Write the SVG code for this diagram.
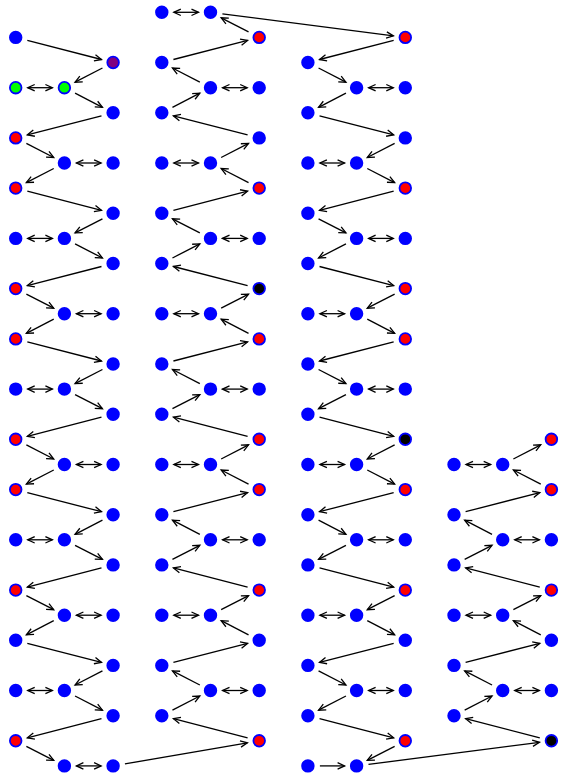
<svg xmlns="http://www.w3.org/2000/svg" width="567" height="779" viewBox="0 0 567 779">
<defs>
<style>
.b{fill:#0000ff;stroke:#0000ff;stroke-width:1.8}
.r{fill:#ff0000;stroke:#0000ff;stroke-width:1.8}
.k{fill:#000000;stroke:#0000ff;stroke-width:1.8}
.g{fill:#00ff00;stroke:#0000ff;stroke-width:1.8}
.p{fill:#800080;stroke:#0000ff;stroke-width:1.8}
#edges line{stroke:#000;stroke-width:1.3;fill:none;marker-end:url(#ah)}
#edges line.d{marker-start:url(#ah)}
</style>
<marker id="ah" markerUnits="userSpaceOnUse" viewBox="-9 -5 11 10" refX="0" refY="0" markerWidth="11" markerHeight="10" orient="auto-start-reverse">
<path d="M-7,-3.2 L0,0 L-7,3.2" fill="none" stroke="#000" stroke-width="1.3"/>
</marker>
</defs>
<rect width="567" height="779" fill="#fff"/>
<g id="edges">
<line x1="27.32" y1="40.4" x2="101.48" y2="59.5"/>
<line x1="102.44" y1="68.0" x2="75.06" y2="82.2"/>
<line class="d" x1="27.7" y1="87.7" x2="52.4" y2="87.7"/>
<line x1="75.06" y1="93.2" x2="102.44" y2="107.3"/>
<line x1="101.48" y1="115.8" x2="27.32" y2="134.9"/>
<line x1="26.36" y1="143.4" x2="53.74" y2="157.5"/>
<line class="d" x1="76.4" y1="163.0" x2="101.1" y2="163.0"/>
<line x1="53.74" y1="168.5" x2="26.36" y2="182.6"/>
<line x1="27.32" y1="191.1" x2="101.48" y2="210.3"/>
<line x1="102.44" y1="218.8" x2="75.06" y2="232.9"/>
<line class="d" x1="27.7" y1="238.4" x2="52.4" y2="238.4"/>
<line x1="75.06" y1="243.9" x2="102.44" y2="258.0"/>
<line x1="101.48" y1="266.5" x2="27.32" y2="285.6"/>
<line x1="26.36" y1="294.1" x2="53.74" y2="308.2"/>
<line class="d" x1="76.4" y1="313.7" x2="101.1" y2="313.7"/>
<line x1="53.74" y1="319.2" x2="26.36" y2="333.4"/>
<line x1="27.32" y1="341.9" x2="101.48" y2="361.0"/>
<line x1="102.44" y1="369.5" x2="75.06" y2="383.6"/>
<line class="d" x1="27.7" y1="389.1" x2="52.4" y2="389.1"/>
<line x1="75.06" y1="394.6" x2="102.44" y2="408.7"/>
<line x1="101.48" y1="417.2" x2="27.32" y2="436.3"/>
<line x1="26.36" y1="444.8" x2="53.74" y2="459.0"/>
<line class="d" x1="76.4" y1="464.5" x2="101.1" y2="464.5"/>
<line x1="53.74" y1="470.0" x2="26.36" y2="484.1"/>
<line x1="27.32" y1="492.6" x2="101.48" y2="511.7"/>
<line x1="102.44" y1="520.2" x2="75.06" y2="534.3"/>
<line class="d" x1="27.7" y1="539.8" x2="52.4" y2="539.8"/>
<line x1="75.06" y1="545.3" x2="102.44" y2="559.4"/>
<line x1="101.48" y1="567.9" x2="27.32" y2="587.1"/>
<line x1="26.36" y1="595.6" x2="53.74" y2="609.7"/>
<line class="d" x1="76.4" y1="615.2" x2="101.1" y2="615.2"/>
<line x1="53.74" y1="620.7" x2="26.36" y2="634.8"/>
<line x1="27.32" y1="643.3" x2="101.48" y2="662.4"/>
<line x1="102.44" y1="670.9" x2="75.06" y2="685.0"/>
<line class="d" x1="27.7" y1="690.5" x2="52.4" y2="690.5"/>
<line x1="75.06" y1="696.0" x2="102.44" y2="710.2"/>
<line x1="101.48" y1="718.7" x2="27.32" y2="737.8"/>
<line x1="26.36" y1="746.3" x2="53.74" y2="760.4"/>
<line class="d" x1="76.4" y1="765.9" x2="101.1" y2="765.9"/>
<line x1="124.9" y1="763.9" x2="247.4" y2="742.8"/>
<line class="d" x1="173.8" y1="12.3" x2="198.5" y2="12.3"/>
<line x1="248.54" y1="31.9" x2="221.16" y2="17.8"/>
<line x1="222.4" y1="13.8" x2="393.4" y2="35.9"/>
<line x1="173.42" y1="59.5" x2="247.58" y2="40.4"/>
<line x1="199.84" y1="82.2" x2="172.46" y2="68.0"/>
<line class="d" x1="222.5" y1="87.7" x2="247.2" y2="87.7"/>
<line x1="172.46" y1="107.3" x2="199.84" y2="93.2"/>
<line x1="247.58" y1="134.9" x2="173.42" y2="115.8"/>
<line x1="221.16" y1="157.5" x2="248.54" y2="143.4"/>
<line class="d" x1="173.8" y1="163.0" x2="198.5" y2="163.0"/>
<line x1="248.54" y1="182.6" x2="221.16" y2="168.5"/>
<line x1="173.42" y1="210.3" x2="247.58" y2="191.1"/>
<line x1="199.84" y1="232.9" x2="172.46" y2="218.8"/>
<line class="d" x1="222.5" y1="238.4" x2="247.2" y2="238.4"/>
<line x1="172.46" y1="258.0" x2="199.84" y2="243.9"/>
<line x1="247.58" y1="285.6" x2="173.42" y2="266.5"/>
<line x1="221.16" y1="308.2" x2="248.54" y2="294.1"/>
<line class="d" x1="173.8" y1="313.7" x2="198.5" y2="313.7"/>
<line x1="248.54" y1="333.4" x2="221.16" y2="319.2"/>
<line x1="173.42" y1="361.0" x2="247.58" y2="341.9"/>
<line x1="199.84" y1="383.6" x2="172.46" y2="369.5"/>
<line class="d" x1="222.5" y1="389.1" x2="247.2" y2="389.1"/>
<line x1="172.46" y1="408.7" x2="199.84" y2="394.6"/>
<line x1="247.58" y1="436.3" x2="173.42" y2="417.2"/>
<line x1="221.16" y1="459.0" x2="248.54" y2="444.8"/>
<line class="d" x1="173.8" y1="464.5" x2="198.5" y2="464.5"/>
<line x1="248.54" y1="484.1" x2="221.16" y2="470.0"/>
<line x1="173.42" y1="511.7" x2="247.58" y2="492.6"/>
<line x1="199.84" y1="534.3" x2="172.46" y2="520.2"/>
<line class="d" x1="222.5" y1="539.8" x2="247.2" y2="539.8"/>
<line x1="172.46" y1="559.4" x2="199.84" y2="545.3"/>
<line x1="247.58" y1="587.1" x2="173.42" y2="567.9"/>
<line x1="221.16" y1="609.7" x2="248.54" y2="595.6"/>
<line class="d" x1="173.8" y1="615.2" x2="198.5" y2="615.2"/>
<line x1="248.54" y1="634.8" x2="221.16" y2="620.7"/>
<line x1="173.42" y1="662.4" x2="247.58" y2="643.3"/>
<line x1="199.84" y1="685.0" x2="172.46" y2="670.9"/>
<line class="d" x1="222.5" y1="690.5" x2="247.2" y2="690.5"/>
<line x1="172.46" y1="710.2" x2="199.84" y2="696.0"/>
<line x1="247.58" y1="737.8" x2="173.42" y2="718.7"/>
<line x1="393.68" y1="40.4" x2="319.52" y2="59.5"/>
<line x1="318.56" y1="68.0" x2="345.94" y2="82.2"/>
<line class="d" x1="368.6" y1="87.7" x2="393.3" y2="87.7"/>
<line x1="345.94" y1="93.2" x2="318.56" y2="107.3"/>
<line x1="319.52" y1="115.8" x2="393.68" y2="134.9"/>
<line x1="394.64" y1="143.4" x2="367.26" y2="157.5"/>
<line class="d" x1="319.9" y1="163.0" x2="344.6" y2="163.0"/>
<line x1="367.26" y1="168.5" x2="394.64" y2="182.6"/>
<line x1="393.68" y1="191.1" x2="319.52" y2="210.3"/>
<line x1="318.56" y1="218.8" x2="345.94" y2="232.9"/>
<line class="d" x1="368.6" y1="238.4" x2="393.3" y2="238.4"/>
<line x1="345.94" y1="243.9" x2="318.56" y2="258.0"/>
<line x1="319.52" y1="266.5" x2="393.68" y2="285.6"/>
<line x1="394.64" y1="294.1" x2="367.26" y2="308.2"/>
<line class="d" x1="319.9" y1="313.7" x2="344.6" y2="313.7"/>
<line x1="367.26" y1="319.2" x2="394.64" y2="333.4"/>
<line x1="393.68" y1="341.9" x2="319.52" y2="361.0"/>
<line x1="318.56" y1="369.5" x2="345.94" y2="383.6"/>
<line class="d" x1="368.6" y1="389.1" x2="393.3" y2="389.1"/>
<line x1="345.94" y1="394.6" x2="318.56" y2="408.7"/>
<line x1="319.52" y1="417.2" x2="393.68" y2="436.3"/>
<line x1="394.64" y1="444.8" x2="367.26" y2="459.0"/>
<line class="d" x1="319.9" y1="464.5" x2="344.6" y2="464.5"/>
<line x1="367.26" y1="470.0" x2="394.64" y2="484.1"/>
<line x1="393.68" y1="492.6" x2="319.52" y2="511.7"/>
<line x1="318.56" y1="520.2" x2="345.94" y2="534.3"/>
<line class="d" x1="368.6" y1="539.8" x2="393.3" y2="539.8"/>
<line x1="345.94" y1="545.3" x2="318.56" y2="559.4"/>
<line x1="319.52" y1="567.9" x2="393.68" y2="587.1"/>
<line x1="394.64" y1="595.6" x2="367.26" y2="609.7"/>
<line class="d" x1="319.9" y1="615.2" x2="344.6" y2="615.2"/>
<line x1="367.26" y1="620.7" x2="394.64" y2="634.8"/>
<line x1="393.68" y1="643.3" x2="319.52" y2="662.4"/>
<line x1="318.56" y1="670.9" x2="345.94" y2="685.0"/>
<line class="d" x1="368.6" y1="690.5" x2="393.3" y2="690.5"/>
<line x1="345.94" y1="696.0" x2="318.56" y2="710.2"/>
<line x1="319.52" y1="718.7" x2="393.68" y2="737.8"/>
<line x1="394.64" y1="746.3" x2="367.26" y2="760.4"/>
<line x1="319.9" y1="765.9" x2="344.6" y2="765.9"/>
<line x1="368.5" y1="764.4" x2="539.5" y2="742.3"/>
<line x1="513.36" y1="459.0" x2="540.74" y2="444.8"/>
<line class="d" x1="466.0" y1="464.5" x2="490.7" y2="464.5"/>
<line x1="540.74" y1="484.1" x2="513.36" y2="470.0"/>
<line x1="465.62" y1="511.7" x2="539.78" y2="492.6"/>
<line x1="492.04" y1="534.3" x2="464.66" y2="520.2"/>
<line class="d" x1="514.7" y1="539.8" x2="539.4" y2="539.8"/>
<line x1="464.66" y1="559.4" x2="492.04" y2="545.3"/>
<line x1="539.78" y1="587.1" x2="465.62" y2="567.9"/>
<line x1="513.36" y1="609.7" x2="540.74" y2="595.6"/>
<line class="d" x1="466.0" y1="615.2" x2="490.7" y2="615.2"/>
<line x1="540.74" y1="634.8" x2="513.36" y2="620.7"/>
<line x1="465.62" y1="662.4" x2="539.78" y2="643.3"/>
<line x1="492.04" y1="685.0" x2="464.66" y2="670.9"/>
<line class="d" x1="514.7" y1="690.5" x2="539.4" y2="690.5"/>
<line x1="464.66" y1="710.2" x2="492.04" y2="696.0"/>
<line x1="539.78" y1="737.8" x2="465.62" y2="718.7"/>
</g>
<g id="nodesA">
<g id="a0r1"><circle class="b" cx="15.7" cy="37.4" r="5.8"/></g>
<g id="a2r2"><circle class="p" cx="113.1" cy="62.5" r="5.8"/></g>
<g id="a0r3"><circle class="g" cx="15.7" cy="87.7" r="5.8"/></g>
<g id="a1r3"><circle class="g" cx="64.4" cy="87.7" r="5.8"/></g>
<g id="a2r4"><circle class="b" cx="113.1" cy="112.8" r="5.8"/></g>
<g id="a0r5"><circle class="r" cx="15.7" cy="137.9" r="5.8"/></g>
<g id="a1r6"><circle class="b" cx="64.4" cy="163.0" r="5.8"/></g>
<g id="a2r6"><circle class="b" cx="113.1" cy="163.0" r="5.8"/></g>
<g id="a0r7"><circle class="r" cx="15.7" cy="188.1" r="5.8"/></g>
<g id="a2r8"><circle class="b" cx="113.1" cy="213.3" r="5.8"/></g>
<g id="a0r9"><circle class="b" cx="15.7" cy="238.4" r="5.8"/></g>
<g id="a1r9"><circle class="b" cx="64.4" cy="238.4" r="5.8"/></g>
<g id="a2r10"><circle class="b" cx="113.1" cy="263.5" r="5.8"/></g>
<g id="a0r11"><circle class="r" cx="15.7" cy="288.6" r="5.8"/></g>
<g id="a1r12"><circle class="b" cx="64.4" cy="313.7" r="5.8"/></g>
<g id="a2r12"><circle class="b" cx="113.1" cy="313.7" r="5.8"/></g>
<g id="a0r13"><circle class="r" cx="15.7" cy="338.9" r="5.8"/></g>
<g id="a2r14"><circle class="b" cx="113.1" cy="364.0" r="5.8"/></g>
<g id="a0r15"><circle class="b" cx="15.7" cy="389.1" r="5.8"/></g>
<g id="a1r15"><circle class="b" cx="64.4" cy="389.1" r="5.8"/></g>
<g id="a2r16"><circle class="b" cx="113.1" cy="414.2" r="5.8"/></g>
<g id="a0r17"><circle class="r" cx="15.7" cy="439.3" r="5.8"/></g>
<g id="a1r18"><circle class="b" cx="64.4" cy="464.5" r="5.8"/></g>
<g id="a2r18"><circle class="b" cx="113.1" cy="464.5" r="5.8"/></g>
<g id="a0r19"><circle class="r" cx="15.7" cy="489.6" r="5.8"/></g>
<g id="a2r20"><circle class="b" cx="113.1" cy="514.7" r="5.8"/></g>
<g id="a0r21"><circle class="b" cx="15.7" cy="539.8" r="5.8"/></g>
<g id="a1r21"><circle class="b" cx="64.4" cy="539.8" r="5.8"/></g>
<g id="a2r22"><circle class="b" cx="113.1" cy="564.9" r="5.8"/></g>
<g id="a0r23"><circle class="r" cx="15.7" cy="590.1" r="5.8"/></g>
<g id="a1r24"><circle class="b" cx="64.4" cy="615.2" r="5.8"/></g>
<g id="a2r24"><circle class="b" cx="113.1" cy="615.2" r="5.8"/></g>
<g id="a0r25"><circle class="b" cx="15.7" cy="640.3" r="5.8"/></g>
<g id="a2r26"><circle class="b" cx="113.1" cy="665.4" r="5.8"/></g>
<g id="a0r27"><circle class="b" cx="15.7" cy="690.5" r="5.8"/></g>
<g id="a1r27"><circle class="b" cx="64.4" cy="690.5" r="5.8"/></g>
<g id="a2r28"><circle class="b" cx="113.1" cy="715.7" r="5.8"/></g>
<g id="a0r29"><circle class="r" cx="15.7" cy="740.8" r="5.8"/></g>
<g id="a1r30"><circle class="b" cx="64.4" cy="765.9" r="5.8"/></g>
<g id="a2r30"><circle class="b" cx="113.1" cy="765.9" r="5.8"/></g>
</g>
<g id="nodesB">
<g id="b3r0"><circle class="b" cx="161.8" cy="12.3" r="5.8"/></g>
<g id="b4r0"><circle class="b" cx="210.5" cy="12.3" r="5.8"/></g>
<g id="b5r1"><circle class="r" cx="259.2" cy="37.4" r="5.8"/></g>
<g id="b3r2"><circle class="b" cx="161.8" cy="62.5" r="5.8"/></g>
<g id="b4r3"><circle class="b" cx="210.5" cy="87.7" r="5.8"/></g>
<g id="b5r3"><circle class="b" cx="259.2" cy="87.7" r="5.8"/></g>
<g id="b3r4"><circle class="b" cx="161.8" cy="112.8" r="5.8"/></g>
<g id="b5r5"><circle class="b" cx="259.2" cy="137.9" r="5.8"/></g>
<g id="b3r6"><circle class="b" cx="161.8" cy="163.0" r="5.8"/></g>
<g id="b4r6"><circle class="b" cx="210.5" cy="163.0" r="5.8"/></g>
<g id="b5r7"><circle class="r" cx="259.2" cy="188.1" r="5.8"/></g>
<g id="b3r8"><circle class="b" cx="161.8" cy="213.3" r="5.8"/></g>
<g id="b4r9"><circle class="b" cx="210.5" cy="238.4" r="5.8"/></g>
<g id="b5r9"><circle class="b" cx="259.2" cy="238.4" r="5.8"/></g>
<g id="b3r10"><circle class="b" cx="161.8" cy="263.5" r="5.8"/></g>
<g id="b5r11"><circle class="k" cx="259.2" cy="288.6" r="5.8"/></g>
<g id="b3r12"><circle class="b" cx="161.8" cy="313.7" r="5.8"/></g>
<g id="b4r12"><circle class="b" cx="210.5" cy="313.7" r="5.8"/></g>
<g id="b5r13"><circle class="r" cx="259.2" cy="338.9" r="5.8"/></g>
<g id="b3r14"><circle class="b" cx="161.8" cy="364.0" r="5.8"/></g>
<g id="b4r15"><circle class="b" cx="210.5" cy="389.1" r="5.8"/></g>
<g id="b5r15"><circle class="b" cx="259.2" cy="389.1" r="5.8"/></g>
<g id="b3r16"><circle class="b" cx="161.8" cy="414.2" r="5.8"/></g>
<g id="b5r17"><circle class="r" cx="259.2" cy="439.3" r="5.8"/></g>
<g id="b3r18"><circle class="b" cx="161.8" cy="464.5" r="5.8"/></g>
<g id="b4r18"><circle class="b" cx="210.5" cy="464.5" r="5.8"/></g>
<g id="b5r19"><circle class="r" cx="259.2" cy="489.6" r="5.8"/></g>
<g id="b3r20"><circle class="b" cx="161.8" cy="514.7" r="5.8"/></g>
<g id="b4r21"><circle class="b" cx="210.5" cy="539.8" r="5.8"/></g>
<g id="b5r21"><circle class="b" cx="259.2" cy="539.8" r="5.8"/></g>
<g id="b3r22"><circle class="b" cx="161.8" cy="564.9" r="5.8"/></g>
<g id="b5r23"><circle class="r" cx="259.2" cy="590.1" r="5.8"/></g>
<g id="b3r24"><circle class="b" cx="161.8" cy="615.2" r="5.8"/></g>
<g id="b4r24"><circle class="b" cx="210.5" cy="615.2" r="5.8"/></g>
<g id="b5r25"><circle class="b" cx="259.2" cy="640.3" r="5.8"/></g>
<g id="b3r26"><circle class="b" cx="161.8" cy="665.4" r="5.8"/></g>
<g id="b4r27"><circle class="b" cx="210.5" cy="690.5" r="5.8"/></g>
<g id="b5r27"><circle class="b" cx="259.2" cy="690.5" r="5.8"/></g>
<g id="b3r28"><circle class="b" cx="161.8" cy="715.7" r="5.8"/></g>
<g id="b5r29"><circle class="r" cx="259.2" cy="740.8" r="5.8"/></g>
</g>
<g id="nodesC">
<g id="c8r1"><circle class="r" cx="405.3" cy="37.4" r="5.8"/></g>
<g id="c6r2"><circle class="b" cx="307.9" cy="62.5" r="5.8"/></g>
<g id="c7r3"><circle class="b" cx="356.6" cy="87.7" r="5.8"/></g>
<g id="c8r3"><circle class="b" cx="405.3" cy="87.7" r="5.8"/></g>
<g id="c6r4"><circle class="b" cx="307.9" cy="112.8" r="5.8"/></g>
<g id="c8r5"><circle class="b" cx="405.3" cy="137.9" r="5.8"/></g>
<g id="c6r6"><circle class="b" cx="307.9" cy="163.0" r="5.8"/></g>
<g id="c7r6"><circle class="b" cx="356.6" cy="163.0" r="5.8"/></g>
<g id="c8r7"><circle class="r" cx="405.3" cy="188.1" r="5.8"/></g>
<g id="c6r8"><circle class="b" cx="307.9" cy="213.3" r="5.8"/></g>
<g id="c7r9"><circle class="b" cx="356.6" cy="238.4" r="5.8"/></g>
<g id="c8r9"><circle class="b" cx="405.3" cy="238.4" r="5.8"/></g>
<g id="c6r10"><circle class="b" cx="307.9" cy="263.5" r="5.8"/></g>
<g id="c8r11"><circle class="r" cx="405.3" cy="288.6" r="5.8"/></g>
<g id="c6r12"><circle class="b" cx="307.9" cy="313.7" r="5.8"/></g>
<g id="c7r12"><circle class="b" cx="356.6" cy="313.7" r="5.8"/></g>
<g id="c8r13"><circle class="r" cx="405.3" cy="338.9" r="5.8"/></g>
<g id="c6r14"><circle class="b" cx="307.9" cy="364.0" r="5.8"/></g>
<g id="c7r15"><circle class="b" cx="356.6" cy="389.1" r="5.8"/></g>
<g id="c8r15"><circle class="b" cx="405.3" cy="389.1" r="5.8"/></g>
<g id="c6r16"><circle class="b" cx="307.9" cy="414.2" r="5.8"/></g>
<g id="c8r17"><circle class="k" cx="405.3" cy="439.3" r="5.8"/></g>
<g id="c6r18"><circle class="b" cx="307.9" cy="464.5" r="5.8"/></g>
<g id="c7r18"><circle class="b" cx="356.6" cy="464.5" r="5.8"/></g>
<g id="c8r19"><circle class="r" cx="405.3" cy="489.6" r="5.8"/></g>
<g id="c6r20"><circle class="b" cx="307.9" cy="514.7" r="5.8"/></g>
<g id="c7r21"><circle class="b" cx="356.6" cy="539.8" r="5.8"/></g>
<g id="c8r21"><circle class="b" cx="405.3" cy="539.8" r="5.8"/></g>
<g id="c6r22"><circle class="b" cx="307.9" cy="564.9" r="5.8"/></g>
<g id="c8r23"><circle class="r" cx="405.3" cy="590.1" r="5.8"/></g>
<g id="c6r24"><circle class="b" cx="307.9" cy="615.2" r="5.8"/></g>
<g id="c7r24"><circle class="b" cx="356.6" cy="615.2" r="5.8"/></g>
<g id="c8r25"><circle class="b" cx="405.3" cy="640.3" r="5.8"/></g>
<g id="c6r26"><circle class="b" cx="307.9" cy="665.4" r="5.8"/></g>
<g id="c7r27"><circle class="b" cx="356.6" cy="690.5" r="5.8"/></g>
<g id="c8r27"><circle class="b" cx="405.3" cy="690.5" r="5.8"/></g>
<g id="c6r28"><circle class="b" cx="307.9" cy="715.7" r="5.8"/></g>
<g id="c8r29"><circle class="r" cx="405.3" cy="740.8" r="5.8"/></g>
<g id="c6r30"><circle class="b" cx="307.9" cy="765.9" r="5.8"/></g>
<g id="c7r30"><circle class="b" cx="356.6" cy="765.9" r="5.8"/></g>
</g>
<g id="nodesD">
<g id="d11r17"><circle class="r" cx="551.4" cy="439.3" r="5.8"/></g>
<g id="d9r18"><circle class="b" cx="454.0" cy="464.5" r="5.8"/></g>
<g id="d10r18"><circle class="b" cx="502.7" cy="464.5" r="5.8"/></g>
<g id="d11r19"><circle class="r" cx="551.4" cy="489.6" r="5.8"/></g>
<g id="d9r20"><circle class="b" cx="454.0" cy="514.7" r="5.8"/></g>
<g id="d10r21"><circle class="b" cx="502.7" cy="539.8" r="5.8"/></g>
<g id="d11r21"><circle class="b" cx="551.4" cy="539.8" r="5.8"/></g>
<g id="d9r22"><circle class="b" cx="454.0" cy="564.9" r="5.8"/></g>
<g id="d11r23"><circle class="r" cx="551.4" cy="590.1" r="5.8"/></g>
<g id="d9r24"><circle class="b" cx="454.0" cy="615.2" r="5.8"/></g>
<g id="d10r24"><circle class="b" cx="502.7" cy="615.2" r="5.8"/></g>
<g id="d11r25"><circle class="b" cx="551.4" cy="640.3" r="5.8"/></g>
<g id="d9r26"><circle class="b" cx="454.0" cy="665.4" r="5.8"/></g>
<g id="d10r27"><circle class="b" cx="502.7" cy="690.5" r="5.8"/></g>
<g id="d11r27"><circle class="b" cx="551.4" cy="690.5" r="5.8"/></g>
<g id="d9r28"><circle class="b" cx="454.0" cy="715.7" r="5.8"/></g>
<g id="d11r29"><circle class="k" cx="551.4" cy="740.8" r="5.8"/></g>
</g>
</svg>
